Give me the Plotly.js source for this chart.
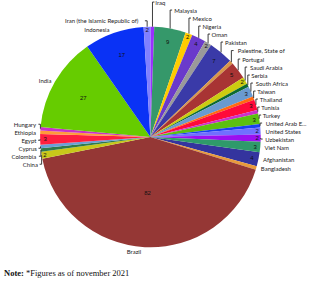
<!DOCTYPE html>
<html>
<head>
<meta charset="utf-8">
<script src="https://cdn.plot.ly/plotly-3.0.1.min.js"></script>
<style>html,body{margin:0;padding:0;background:#fff;}#chart{width:320px;height:281px;}</style>
</head>
<body>
<div id="chart"></div>
<script>
const countries = ["Afghanistan","Bangladesh","Brazil","China","Colombia","Cyprus","Egypt","Ethiopia","Hungary","India","Indonesia","Iran (the Islamic Republic of)","Iraq","Malaysia","Mexico","Nigeria","Oman","Pakistan","Palestine, State of","Portugal","Saudi Arabia","Serbia","South Africa","Taiwan","Thailand","Tunisia","Turkey","United Arab E...","United States","Uzbekistan","Viet Nam"];
const counts = [4,1,82,2,1,1,3,1,1,27,17,2,1,9,2,4,2,7,1,5,2,1,3,1,3,1,3,1,2,2,3];
const sliceColors = ["#34349e","#e89a3c","#953735","#c8c81a","#2f7a4c","#6aa0d6","#ff1f3f","#ff9a3a","#c832c8","#66cc00","#0a32f5","#8080ff","#9b30ff","#35986a","#ffcc00","#6a3acb","#9a9a9a","#3a3aa8","#d8974a","#a83434","#cccc10","#0c6a30","#6a9ad0","#ff6a10","#ff0a3a","#cc30cc","#5cc010","#1a40f0","#7070ff","#9a10f0","#2f9a6a"];
const noteText = "<b>Note:</b> *Figures as of november 2021";

const dom = {x:[0.125,0.815], y:[0.12,0.905]};
const common = {
  type:'pie', labels:countries, values:counts, sort:false, direction:'clockwise',
  rotation:98, domain:dom, hoverinfo:'skip', showlegend:false
};
const data = [
  Object.assign({}, common, {
    marker:{colors:sliceColors, line:{width:0}},
    textinfo:'value', textposition:'inside', insidetextorientation:'horizontal',
    insidetextfont:{family:'Liberation Sans, Arial', size:7, color:'#111'}
  }),
  Object.assign({}, common, {
    marker:{colors:countries.map(()=> 'rgba(0,0,0,0)'), line:{width:0}},
    textinfo:'label', textposition:'outside',
    outsidetextfont:{family:'Lato, Liberation Sans', size:7, color:'#222'}
  })
];
const layout = {
  width:320, height:281, margin:{l:0,r:0,t:0,b:0},
  paper_bgcolor:'#fff', plot_bgcolor:'#fff',
  uniformtext:{mode:'hide', minsize:5},
  annotations:[{
    text:noteText, xref:'paper', yref:'paper', x:0.005, y:0.005,
    xanchor:'left', yanchor:'bottom', showarrow:false,
    font:{family:'Liberation Serif, Times New Roman', size:8.5, color:'#111'}
  }]
};
Plotly.newPlot('chart', data, layout, {staticPlot:true});
</script>
</body>
</html>
